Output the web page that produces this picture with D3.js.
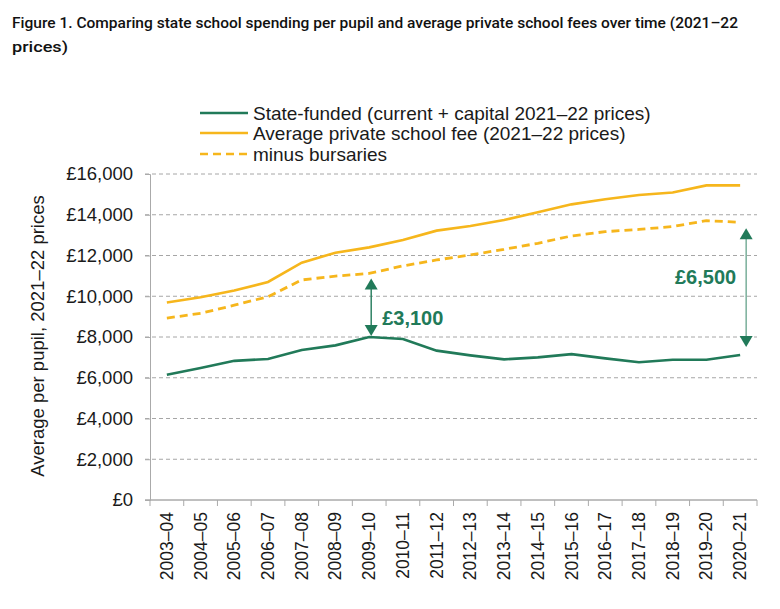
<!DOCTYPE html>
<html>
<head>
<meta charset="utf-8">
<script src="https://cdn.jsdelivr.net/npm/d3@7"></script>
<style>
  body { margin: 0; background: #fff; }
  svg text { font-family: "Liberation Sans", Arial, sans-serif; fill: #1a1a1a; }
  .title { font-family: Roboto, "DejaVu Sans Condensed", sans-serif; font-size: 15.5px; font-weight: 500; fill: #111; }
</style>
</head>
<body>
<div id="chart"></div>
<script>
(function() {
"use strict"

// school years on the x axis
var years = ["2003–04","2004–05","2005–06","2006–07","2007–08","2008–09","2009–10","2010–11","2011–12",
             "2012–13","2013–14","2014–15","2015–16","2016–17","2017–18","2018–19","2019–20","2020–21"];

// spending per pupil, 2021-22 prices
var stateFunded    = [6150, 6480, 6830, 6920, 7360, 7590, 8000, 7900, 7330, 7100, 6900, 7000, 7160, 6950, 6760, 6880, 6880, 7120];
var privateFee     = [9690, 9950, 10280, 10700, 11650, 12140, 12400, 12760, 13220, 13450, 13740, 14120, 14510, 14760, 14970, 15090, 15440, 15440];
var minusBursaries = [8930, 9160, 9560, 9980, 10800, 10990, 11120, 11490, 11780, 12030, 12300, 12600, 12960, 13170, 13280, 13420, 13710, 13630];

var yTicks = [0, 2000, 4000, 6000, 8000, 10000, 12000, 14000, 16000];

var legendLabels = ["State-funded (current + capital 2021–22 prices)",
                    "Average private school fee (2021–22 prices)",
                    "minus bursaries"];

// gap annotations: year where the arrow sits and its label
var gapYears  = ["2009–10", "2020–21"];
var gapLabels = ["£3,100", "£6,500"];

var green = "#217a59";
var amber = "#f6b61c";

var W = 780, H = 609;
var svg = d3.select("#chart").append("svg")
    .attr("width", W)
    .attr("height", H);

// title (squeezed to the width of the original line)
svg.append("text").attr("class","title").attr("x",12).attr("y",28)
    .attr("textLength", 726).attr("lengthAdjust","spacingAndGlyphs")
    .text("Figure 1. Comparing state school spending per pupil and average private school fees over time (2021–22");
svg.append("text").attr("class","title").attr("x",12).attr("y",52)
    .attr("textLength", 56).attr("lengthAdjust","spacingAndGlyphs")
    .text("prices)");

//scales
var x = d3.scaleBand()
    .domain(years)
    .range([150, 757]);
var y = d3.scaleLinear()
    .domain([0, 16000])
    .range([500, 174]);
var cx = function(d) { return x(d) + x.bandwidth()/2; };

// gridlines
svg.append("g")
    .selectAll("line")
    .data(yTicks)
    .join("line")
    .attr("x1", 145).attr("x2", 757)
    .attr("y1", function(d){ return y(d); })
    .attr("y2", function(d){ return y(d); })
    .style("stroke", function(d){ return d === 0 ? "#aaa" : "#a6a6a6"; })
    .style("stroke-dasharray", function(d){ return d === 0 ? null : "4,3"; })
    .style("stroke-width", 1);

// y axis
var yAxis = svg.append("g")
    .attr("transform", "translate(150,0)")
    .call(d3.axisLeft(y).tickValues(yTicks).tickSize(5).tickPadding(12)
        .tickFormat(function(d){ return "£" + d3.format(",")(d); }));
yAxis.select(".domain").style("stroke","#aaa");
yAxis.selectAll(".tick line").style("stroke","#aaa");
yAxis.selectAll("text").style("font-size","18.5px").style("fill","#1a1a1a")
    .style("font-family","'Liberation Sans', Arial, sans-serif");

svg.append("text")
    .attr("transform", "rotate(-90)")
    .attr("x", -336)
    .attr("y", 44)
    .style("text-anchor","middle")
    .style("font-size","18.5px")
    .text("Average per pupil, 2021–22 prices");

// x axis, ticks on band edges
var xAxis = svg.append("g")
    .attr("transform", "translate(0,500)");
xAxis.append("line").attr("x1",145).attr("x2",757).attr("y1",0).attr("y2",0).style("stroke","#aaa");
xAxis.selectAll("line.tk")
    .data(years.concat(["end"]))
    .join("line")
    .attr("class","tk")
    .attr("x1", function(d,i){ return i < years.length ? x(d) : x.range()[1]; })
    .attr("x2", function(d,i){ return i < years.length ? x(d) : x.range()[1]; })
    .attr("y1", 0).attr("y2", 6)
    .style("stroke","#aaa");
xAxis.selectAll("text")
    .data(years)
    .join("text")
    .attr("transform", function(d){ return "translate(" + (cx(d)+6) + ",12) rotate(-90)"; })
    .style("text-anchor","end")
    .style("font-size","17.5px")
    .text(function(d){ return d; });

// lines
var line = d3.line()
    .x(function(d,i){ return cx(years[i]); })
    .y(function(d){ return y(d); });

svg.append("path").datum(privateFee)
    .attr("d", line).style("fill","none").style("stroke",amber).style("stroke-width",2.6);
svg.append("path").datum(minusBursaries)
    .attr("d", line).style("fill","none").style("stroke",amber).style("stroke-width",2.8)
    .style("stroke-dasharray","8,5");
svg.append("path").datum(stateFunded)
    .attr("d", line).style("fill","none").style("stroke",green).style("stroke-width",2.6);

// gap arrows between the state line and the bursary line
var tri = function(px, py, dir) {
    // dir -1 = pointing up, 1 = pointing down
    return "M" + px + "," + py + "L" + (px-6.5) + "," + (py - dir*11) + "L" + (px+6.5) + "," + (py - dir*11) + "Z";
};
gapYears.forEach(function(yr, k) {
    var i = years.indexOf(yr);
    var px = cx(yr) + (k === 0 ? 2 : 6);
    var top = y(minusBursaries[i]) + (k === 0 ? 5 : 6);
    var bot = y(stateFunded[i]) - (k === 0 ? 1 : 8);
    var g = svg.append("g");
    g.append("line").attr("x1",px).attr("x2",px).attr("y1",top+8).attr("y2",bot-8)
        .style("stroke", green).style("stroke-width", k === 0 ? 1.4 : 1.2)
        .style("opacity", k === 0 ? 1 : 0.75);
    g.append("path").attr("d", tri(px, top, -1)).style("fill", green);
    g.append("path").attr("d", tri(px, bot, 1)).style("fill", green);
    var lbl = g.append("text")
        .style("font-size","20px").style("font-weight","bold").style("fill", green)
        .text(gapLabels[k]);
    if (k === 0) {
        lbl.attr("x", px + 11).attr("y", 325);
    } else {
        lbl.attr("x", px - 10).attr("y", 284).style("text-anchor","end");
    }
});

// legend
var leg = svg.append("g");
var legStyles = [{c:green, dash:null}, {c:amber, dash:null}, {c:amber, dash:"8,5"}];
var legY = [113, 133, 154];
legendLabels.forEach(function(t, i) {
    leg.append("line").attr("x1",200).attr("x2",248).attr("y1",legY[i]).attr("y2",legY[i])
        .style("stroke", legStyles[i].c).style("stroke-width", 2.6)
        .style("stroke-dasharray", legStyles[i].dash);
    leg.append("text").attr("x",253).attr("y",legY[i]+6.5)
        .style("font-size","19px")
        .text(t);
});
})();
</script>
</body>
</html>
